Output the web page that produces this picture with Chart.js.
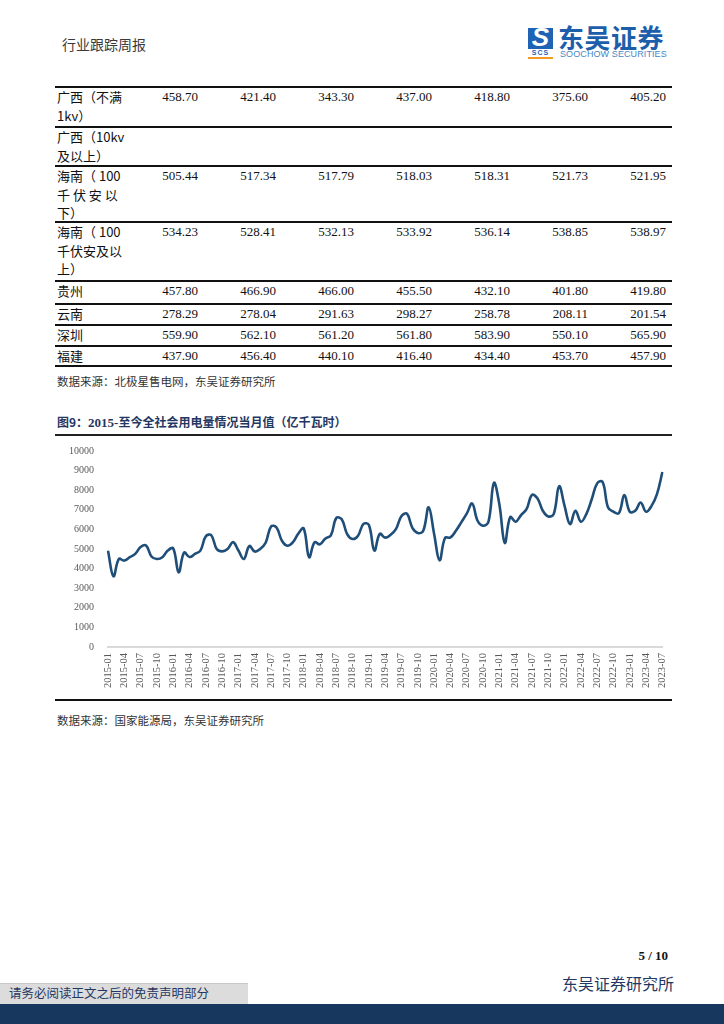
<!DOCTYPE html>
<html><head><meta charset="utf-8">
<script src="https://cdn.jsdelivr.net/npm/chart.js@4.4.0/dist/chart.umd.min.js"></script>
<style>
body{margin:0;width:724px;height:1024px;position:relative;background:#fff;overflow:hidden;font-family:"Noto Sans CJK SC",sans-serif;}
.abs{position:absolute;white-space:nowrap;}
.cell{position:absolute;font-size:13px;line-height:18.5px;color:#111;}
.num{font-family:"Liberation Serif",serif;text-align:right;}
.hline{position:absolute;left:55px;width:617px;background:#111;}
</style></head><body>

<script>
// ---------- table data ----------
const tableRowLabels = [
  ["广西（不满", "1kv）"],
  ["广西（10kv", "及以上）"],
  ["海南（ 100", "千 伏 安 以", "下）"],
  ["海南（ 100", "千伏安及以", "上）"],
  ["贵州"],
  ["云南"],
  ["深圳"],
  ["福建"]
];
const guangxiLow   = ["458.70","421.40","343.30","437.00","418.80","375.60","405.20"];
const guangxiHigh  = ["","","","","","",""];
const hainanLow    = ["505.44","517.34","517.79","518.03","518.31","521.73","521.95"];
const hainanHigh   = ["534.23","528.41","532.13","533.92","536.14","538.85","538.97"];
const guizhou      = ["457.80","466.90","466.00","455.50","432.10","401.80","419.80"];
const yunnan       = ["278.29","278.04","291.63","298.27","258.78","208.11","201.54"];
const shenzhen     = ["559.90","562.10","561.20","561.80","583.90","550.10","565.90"];
const fujian       = ["437.90","456.40","440.10","416.40","434.40","453.70","457.90"];

// ---------- chart data ----------
const months = [
 "2015-01","2015-02","2015-03","2015-04","2015-05","2015-06","2015-07","2015-08","2015-09","2015-10","2015-11","2015-12",
 "2016-01","2016-02","2016-03","2016-04","2016-05","2016-06","2016-07","2016-08","2016-09","2016-10","2016-11","2016-12",
 "2017-01","2017-02","2017-03","2017-04","2017-05","2017-06","2017-07","2017-08","2017-09","2017-10","2017-11","2017-12",
 "2018-01","2018-02","2018-03","2018-04","2018-05","2018-06","2018-07","2018-08","2018-09","2018-10","2018-11","2018-12",
 "2019-01","2019-02","2019-03","2019-04","2019-05","2019-06","2019-07","2019-08","2019-09","2019-10","2019-11","2019-12",
 "2020-01","2020-02","2020-03","2020-04","2020-05","2020-06","2020-07","2020-08","2020-09","2020-10","2020-11","2020-12",
 "2021-01","2021-02","2021-03","2021-04","2021-05","2021-06","2021-07","2021-08","2021-09","2021-10","2021-11","2021-12",
 "2022-01","2022-02","2022-03","2022-04","2022-05","2022-06","2022-07","2022-08","2022-09","2022-10","2022-11","2022-12",
 "2023-01","2023-02","2023-03","2023-04","2023-05","2023-06","2023-07"
];
const consumption = [
 4915,3610,4490,4410,4580,4750,5100,5180,4620,4490,4580,4920,
 5030,3810,4820,4590,4750,4920,5650,5700,5000,4880,5000,5350,
 4920,4490,5150,4870,5000,5320,6150,6100,5420,5170,5340,5780,
 6050,4580,5340,5240,5540,5690,6580,6520,5760,5510,5680,6280,
 6220,4920,5770,5580,5730,6030,6680,6800,6080,5820,5930,7130,
 5770,4420,5560,5590,5930,6360,6800,7320,6440,6190,6390,8370,
 7280,5310,6630,6390,6730,7030,7760,7590,6950,6660,6780,8200,
 7200,6270,6950,6390,6780,7540,8350,8420,7120,6900,6830,7750,
 6900,6950,7370,6900,7200,7800,8930
];
const tickLabels = [
 "2015-01","2015-04","2015-07","2015-10","2016-01","2016-04","2016-07","2016-10",
 "2017-01","2017-04","2017-07","2017-10","2018-01","2018-04","2018-07","2018-10",
 "2019-01","2019-04","2019-07","2019-10","2020-01","2020-04","2020-07","2020-10",
 "2021-01","2021-04","2021-07","2021-10","2022-01","2022-04","2022-07","2022-10",
 "2023-01","2023-04","2023-07"
];
const yTicks = [0,1000,2000,3000,4000,5000,6000,7000,8000,9000,10000];
</script>

<!-- header -->
<div class="abs" style="left:62px;top:34px;font-size:14px;color:#3a3a3a;">行业跟踪周报</div>
<div class="abs" style="left:528px;top:28px;width:25px;height:21px;background:#1f63b4;overflow:hidden;">
  <div style="position:absolute;left:0;top:-6px;width:25px;text-align:center;font:italic bold 26px 'Liberation Sans';color:#fff;">S</div>
</div>
<div class="abs" style="left:528px;top:49px;width:25px;height:7px;font:bold 7px 'Liberation Sans';color:#1f63b4;text-align:center;letter-spacing:1px;line-height:7px;">SCS</div>
<div class="abs" style="left:528px;top:57px;width:25px;height:2px;background:#f29a1f;"></div>
<div class="abs" style="left:558px;top:22px;font-size:26px;font-weight:bold;color:#1d5eab;letter-spacing:0.5px;line-height:30px;">东吴证券</div>
<div class="abs" style="left:560px;top:49px;font:9px 'Liberation Sans';color:#4a86c8;letter-spacing:0.1px;">SOOCHOW SECURITIES</div>

<div id="table"></div>

<div class="abs" style="left:57px;top:373px;font-size:11.5px;color:#333;">数据来源：北极星售电网，东吴证券研究所</div>

<!-- chart title -->
<div class="abs" style="left:57px;top:413px;font-size:12px;font-weight:bold;color:#1f3864;">图9：<span style="font-family:'Liberation Serif';font-size:13px;">2015-</span>至今全社会用电量情况当月值（亿千瓦时）</div>
<div class="hline" style="top:434px;height:2px;background:#222;"></div>

<div class="abs" style="left:55px;top:431px;width:626px;height:267px;">
  <canvas id="c" width="626" height="267"></canvas>
</div>
<div class="hline" style="top:699px;height:2px;background:#111;"></div>
<div class="abs" style="left:57px;top:712px;font-size:11.5px;color:#333;">数据来源：国家能源局，东吴证券研究所</div>

<!-- footer -->
<div class="abs" style="right:56px;top:948px;font:bold 13px 'Liberation Serif';color:#111;">5 / 10</div>
<div class="abs" style="left:562px;top:971px;font-size:16px;color:#1f3864;">东吴证券研究所</div>
<div class="abs" style="left:0;top:983px;width:248px;height:21px;background:#dcdcdc;border-top:1px solid #c8c8c8;"></div>
<div class="abs" style="left:9px;top:984px;font-size:12.5px;color:#1f3864;line-height:18px;">请务必阅读正文之后的免责声明部分</div>
<div class="abs" style="left:0;top:1004px;width:724px;height:20px;background:#17375e;"></div>

<script>
// build table
(function(){
  const rows = [guangxiLow, guangxiHigh, hainanLow, hainanHigh, guizhou, yunnan, shenzhen, fujian];
  const heights = [40, 39, 56, 59, 23, 21, 21, 20];
  const host = document.getElementById('table');
  let y = 87;
  let html = '<div class="hline" style="top:86px;height:2px;"></div>';
  rows.forEach((vals, r) => {
    html += '<div class="cell" style="left:57px;top:' + (y + 1) + 'px;">' + tableRowLabels[r].join('<br>') + '</div>';
    vals.forEach((v, c) => {
      const right = 204 + c * 78 - 6;
      html += '<div class="cell num" style="left:' + (right - 70) + 'px;width:70px;top:' + (y + 1) + 'px;">' + v + '</div>';
    });
    y += heights[r];
    html += '<div class="hline" style="top:' + (y - 1) + 'px;height:' + (r === rows.length - 1 ? 2 : 1.5) + 'px;"></div>';
  });
  host.innerHTML = html;
})();

new Chart(document.getElementById('c').getContext('2d'), {
  type: 'line',
  data: {
    labels: months,
    datasets: [{
      data: consumption,
      borderColor: '#1f4e79',
      borderWidth: 2.6,
      pointRadius: 0,
      tension: 0.4,
      fill: false
    }]
  },
  options: {
    responsive: false,
    animation: false,
    devicePixelRatio: 1,
    layout: { padding: { top: 1, right: 2, left: 0, bottom: 0 } },
    plugins: { legend: { display: false }, tooltip: { enabled: false } },
    scales: {
      x: {
        offset: false,
        grid: { display: false, drawTicks: false },
        border: { display: true, color: '#d9d9d9', width: 2 },
        ticks: {
          autoSkip: false, minRotation: 90, maxRotation: 90, padding: 6,
          color: '#595959', font: { family: 'Liberation Serif', size: 10.5 },
          callback: function(v, i) { return tickLabels.includes(months[i]) ? months[i] : ''; }
        },
        afterFit: function(s) { s.height = 51; }
      },
      y: {
        min: 0, max: 10000,
        afterBuildTicks: function(s) { s.ticks = yTicks.map(v => ({ value: v })); },
        ticks: { padding: 14, color: '#595959', font: { family: 'Liberation Serif', size: 10 },
          callback: function(v) { return String(v); } },
        grid: { display: false, drawTicks: false },
        border: { display: false },
        afterFit: function(s) { s.width = 53; }
      }
    }
  }
});
</script>
</body></html>
